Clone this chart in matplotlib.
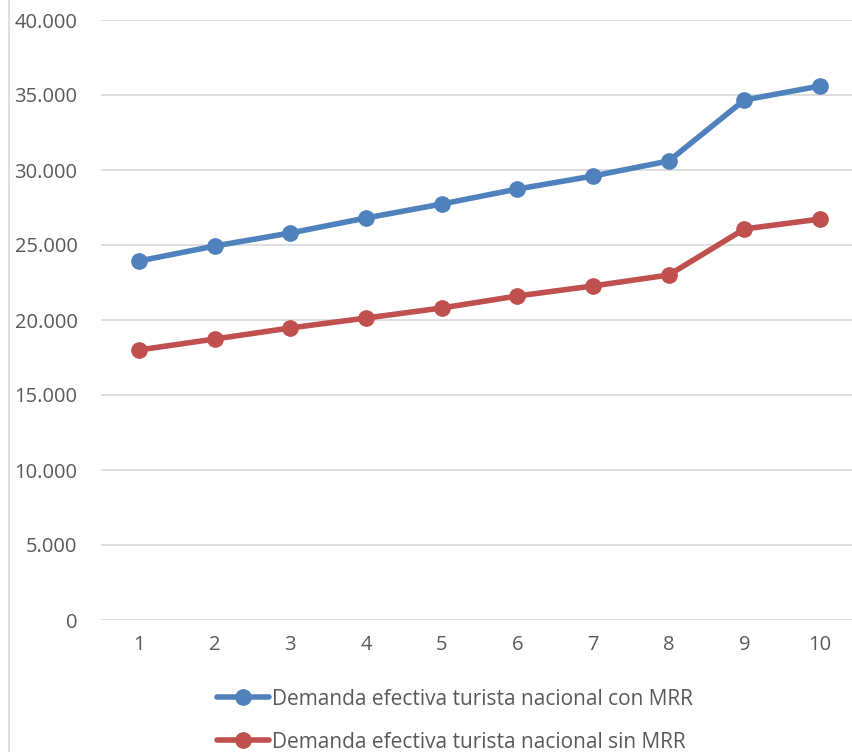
import matplotlib
matplotlib.use("Agg")
import matplotlib.pyplot as plt
from matplotlib.ticker import FuncFormatter
from matplotlib.lines import Line2D

categories = [1, 2, 3, 4, 5, 6, 7, 8, 9, 10]
con_mrr = [23930, 24930, 25800, 26800, 27730, 28730, 29600, 30600, 34670, 35600]
sin_mrr = [18000, 18730, 19470, 20130, 20800, 21600, 22270, 23000, 26070, 26730]
series_names = ["Demanda efectiva turista nacional con MRR",
                "Demanda efectiva turista nacional sin MRR"]
colors = ["#4F81BD", "#C0504D"]
text_color = "#595959"

plt.rcParams['font.family'] = ['Open Sans', 'DejaVu Sans']

fig = plt.figure(figsize=(8.52, 7.52), dpi=100)
# left border line of chart frame
fig.add_artist(Line2D([8.5/852, 8.5/852], [0, 1], color="#d9d9d9", lw=1.2,
                      transform=fig.transFigure))

ax = fig.add_axes([101/852, 1-620/752, 757/852, 600/752])
for vals, c, name in zip([con_mrr, sin_mrr], colors, series_names):
    ax.plot(categories, vals, color=c, lw=4, marker='o', markersize=11,
            label=name, solid_capstyle='round')

ax.set_xlim(0.5, 10.5)
ax.set_ylim(0, 40000)
ax.set_yticks(range(0, 40001, 5000))
ax.set_xticks(categories)
ax.yaxis.set_major_formatter(FuncFormatter(lambda v, p: f"{int(v):,}".replace(",", ".")))
ax.grid(axis='y', color="#d9d9d9", lw=1.2)
ax.set_axisbelow(True)
for s in ax.spines.values():
    s.set_visible(False)
ax.tick_params(axis='both', length=0, colors=text_color, labelsize=14.5)
ax.tick_params(axis='y', pad=17)
ax.tick_params(axis='x', pad=11)

handles, labels = ax.get_legend_handles_labels()
leg = fig.legend(handles, labels, loc='upper left', bbox_to_anchor=(198/852, 1-670/752),
                 frameon=False, fontsize=15, labelcolor=text_color,
                 handlelength=2.5, handletextpad=0.15, labelspacing=1.05)

fig.savefig("out.png", dpi=100)
